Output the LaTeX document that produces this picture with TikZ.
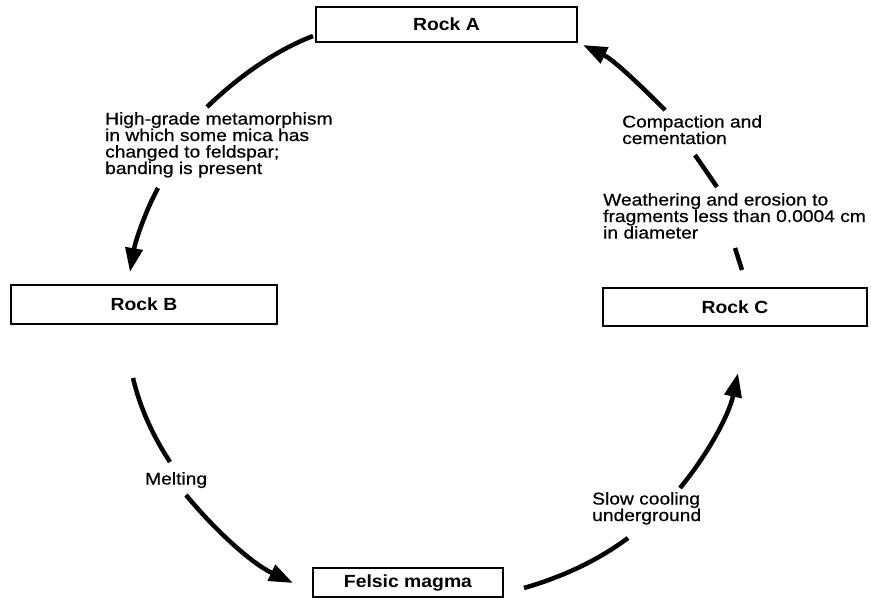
\documentclass[tikz,border=0pt]{standalone}
\usepackage{fontspec}
\setmainfont{Liberation Sans}[FakeStretch=1.1]
\newfontfamily\notefont{Liberation Sans}[FakeStretch=1.13,FakeBold=0.6]
\usetikzlibrary{arrows.meta}

\begin{document}
\begin{tikzpicture}[x=1pt,y=-1pt,
  rock/.style={draw,line width=2pt,inner sep=0pt,font=\fontsize{17.6}{16}\selectfont\bfseries},
  note/.style={anchor=north west,inner sep=0pt,align=left,font=\fontsize{17}{16.5}\selectfont\notefont},
  flow/.style={line width=4.5pt},
  pointed/.style={-{Triangle[length=24pt,width=17pt]}}]
\useasboundingbox (0,0) rectangle (871,600);
% the four rocks
\node[rock,minimum width=261pt,minimum height=35pt] (rA) at (446.5,24.5) {Rock A};
\node[rock,minimum width=266pt,minimum height=39pt] (rB) at (144,304.5) {Rock B};
\node[rock,minimum width=264pt,minimum height=38pt] (rC) at (735,307) {Rock C};
\node[rock,minimum width=190pt,minimum height=29pt] (fm) at (408,582.5) {Felsic magma};
% what happens between them
\node[note] (meta) at (105,112) {High-grade metamorphism\\in which some mica has\\changed to feldspar;\\banding is present};
\node[note] (melt) at (145,472) {Melting};
\node[note] (cool) at (592,492) {Slow cooling\\underground};
\node[note] (weath) at (603,193) {Weathering and erosion to\\fragments less than 0.0004 cm\\in diameter};
\node[note] (comp) at (622,115) {Compaction and\\cementation};
% ends of the arrow pieces
\coordinate (a1) at (313,36);  \coordinate (a2) at (207,107);
\coordinate (a3) at (158,188); \coordinate (a4) at (130,272);
\coordinate (b1) at (133,378); \coordinate (b2) at (170,462);
\coordinate (b3) at (186,495); \coordinate (b4) at (293,583);
\coordinate (c1) at (524,588); \coordinate (c2) at (628,538);
\coordinate (c3) at (680,488); \coordinate (c4) at (738,373);
\coordinate (d1) at (742,270); \coordinate (d2) at (735,248);
\coordinate (d3) at (717,187); \coordinate (d4) at (695,155);
\coordinate (d5) at (665,110); \coordinate (d6) at (583,45);
% the cycle
\draw[flow] (a1) .. controls (274,51) and (237,78) .. (a2);
\draw[flow,pointed] (a3) .. controls (144,214) and (135,243) .. (a4);
\draw[flow] (b1) .. controls (140,408) and (153,436) .. (b2);
\draw[flow,pointed] (b3) .. controls (215,530) and (251,563) .. (b4);
\draw[flow] (c1) .. controls (562,577) and (597,561) .. (c2);
\draw[flow,pointed] (c3) .. controls (708,454) and (729,415) .. (c4);
\draw[flow] (d1) -- (d2);
\draw[flow] (d3) -- (d4);
\draw[flow,pointed] (d5) .. controls (641,86) and (614,60) .. (d6);
\end{tikzpicture}
\end{document}
